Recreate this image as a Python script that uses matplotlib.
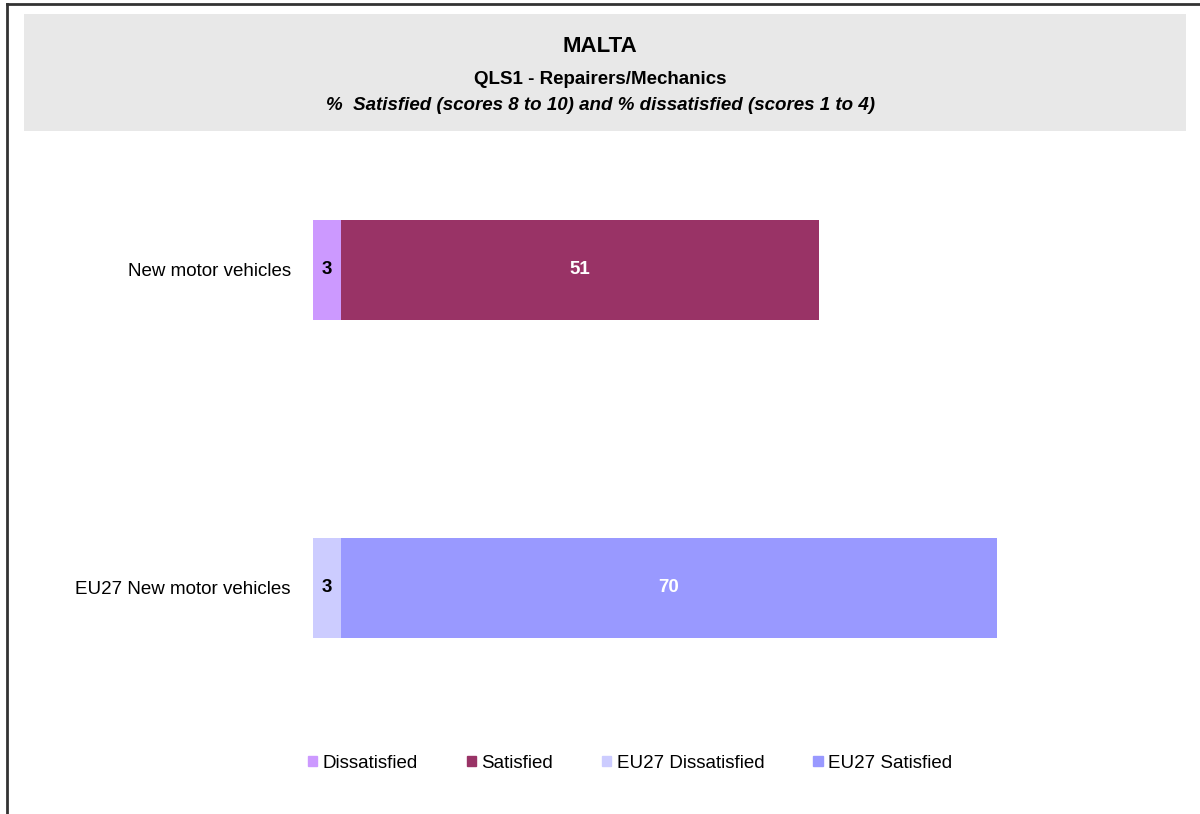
import matplotlib.pyplot as plt
from matplotlib.patches import Rectangle
from matplotlib.lines import Line2D

plt.rcParams['font.family'] = ['Liberation Sans', 'DejaVu Sans']

categories = ['New motor vehicles', 'EU27 New motor vehicles']
dissatisfied = [3, 3]
satisfied = [51, 70]
legend_labels = ['Dissatisfied', 'Satisfied', 'EU27 Dissatisfied', 'EU27 Satisfied']

col_dis = ['#CC99FF', '#CCCCFF']
col_sat = ['#993366', '#9999FF']

fig = plt.figure(figsize=(12, 8.14), dpi=100)

# frame lines (top and left only) and gray title box
fig.add_artist(Line2D([0.0058, 0.0058], [0, 0.9945], transform=fig.transFigure,
                      color='#333333', lw=2))
fig.add_artist(Line2D([0.0058, 1], [0.9945, 0.9945], transform=fig.transFigure,
                      color='#333333', lw=2))
fig.add_artist(Rectangle((24 / 1200, 1 - 131 / 814), (1186 - 24) / 1200, (131 - 14) / 814,
                         transform=fig.transFigure, facecolor='#E8E8E8', edgecolor='none'))

fig.text(0.5, 1 - 46 / 814, 'MALTA', ha='center', va='center', fontsize=16, fontweight='bold')
fig.text(0.5, 1 - 80 / 814, 'QLS1 - Repairers/Mechanics', ha='center', va='center',
         fontsize=13.5, fontweight='bold')
fig.text(0.5, 1 - 106 / 814, '%  Satisfied (scores 8 to 10) and % dissatisfied (scores 1 to 4)',
         ha='center', va='center', fontsize=13.5, fontweight='bold', style='italic')

ax = fig.add_axes([313 / 1200, 67 / 814, 843 / 1200, 636 / 814])
ypos = [1, 0]
h = 100 / 318
ax.barh(ypos, dissatisfied, height=h, color=col_dis)
ax.barh(ypos, satisfied, left=dissatisfied, height=h, color=col_sat)

for y, d, s in zip(ypos, dissatisfied, satisfied):
    ax.text(d / 2, y, str(d), ha='center', va='center', fontsize=13.5, fontweight='bold', color='black')
    ax.text(d + s / 2, y, str(s), ha='center', va='center', fontsize=13.5, fontweight='bold', color='white')

ax.set_xlim(0, 90)
ax.set_ylim(-0.5, 1.5)
ax.set_yticks(ypos)
ax.set_yticklabels(categories, fontsize=13.5)
ax.tick_params(axis='y', length=0, pad=16)
ax.set_xticks([])
for sp in ax.spines.values():
    sp.set_visible(False)

handles = [Rectangle((0, 0), 1, 1, color=c) for c in [col_dis[0], col_sat[0], col_dis[1], col_sat[1]]]
fig.legend(handles, legend_labels, loc='center', bbox_to_anchor=(630 / 1200, 1 - 763 / 814),
           ncol=4, frameon=False, fontsize=13.5, handlelength=0.5, handleheight=0.5,
           handletextpad=0.3, columnspacing=2.6)

fig.savefig('out.png', dpi=100)
